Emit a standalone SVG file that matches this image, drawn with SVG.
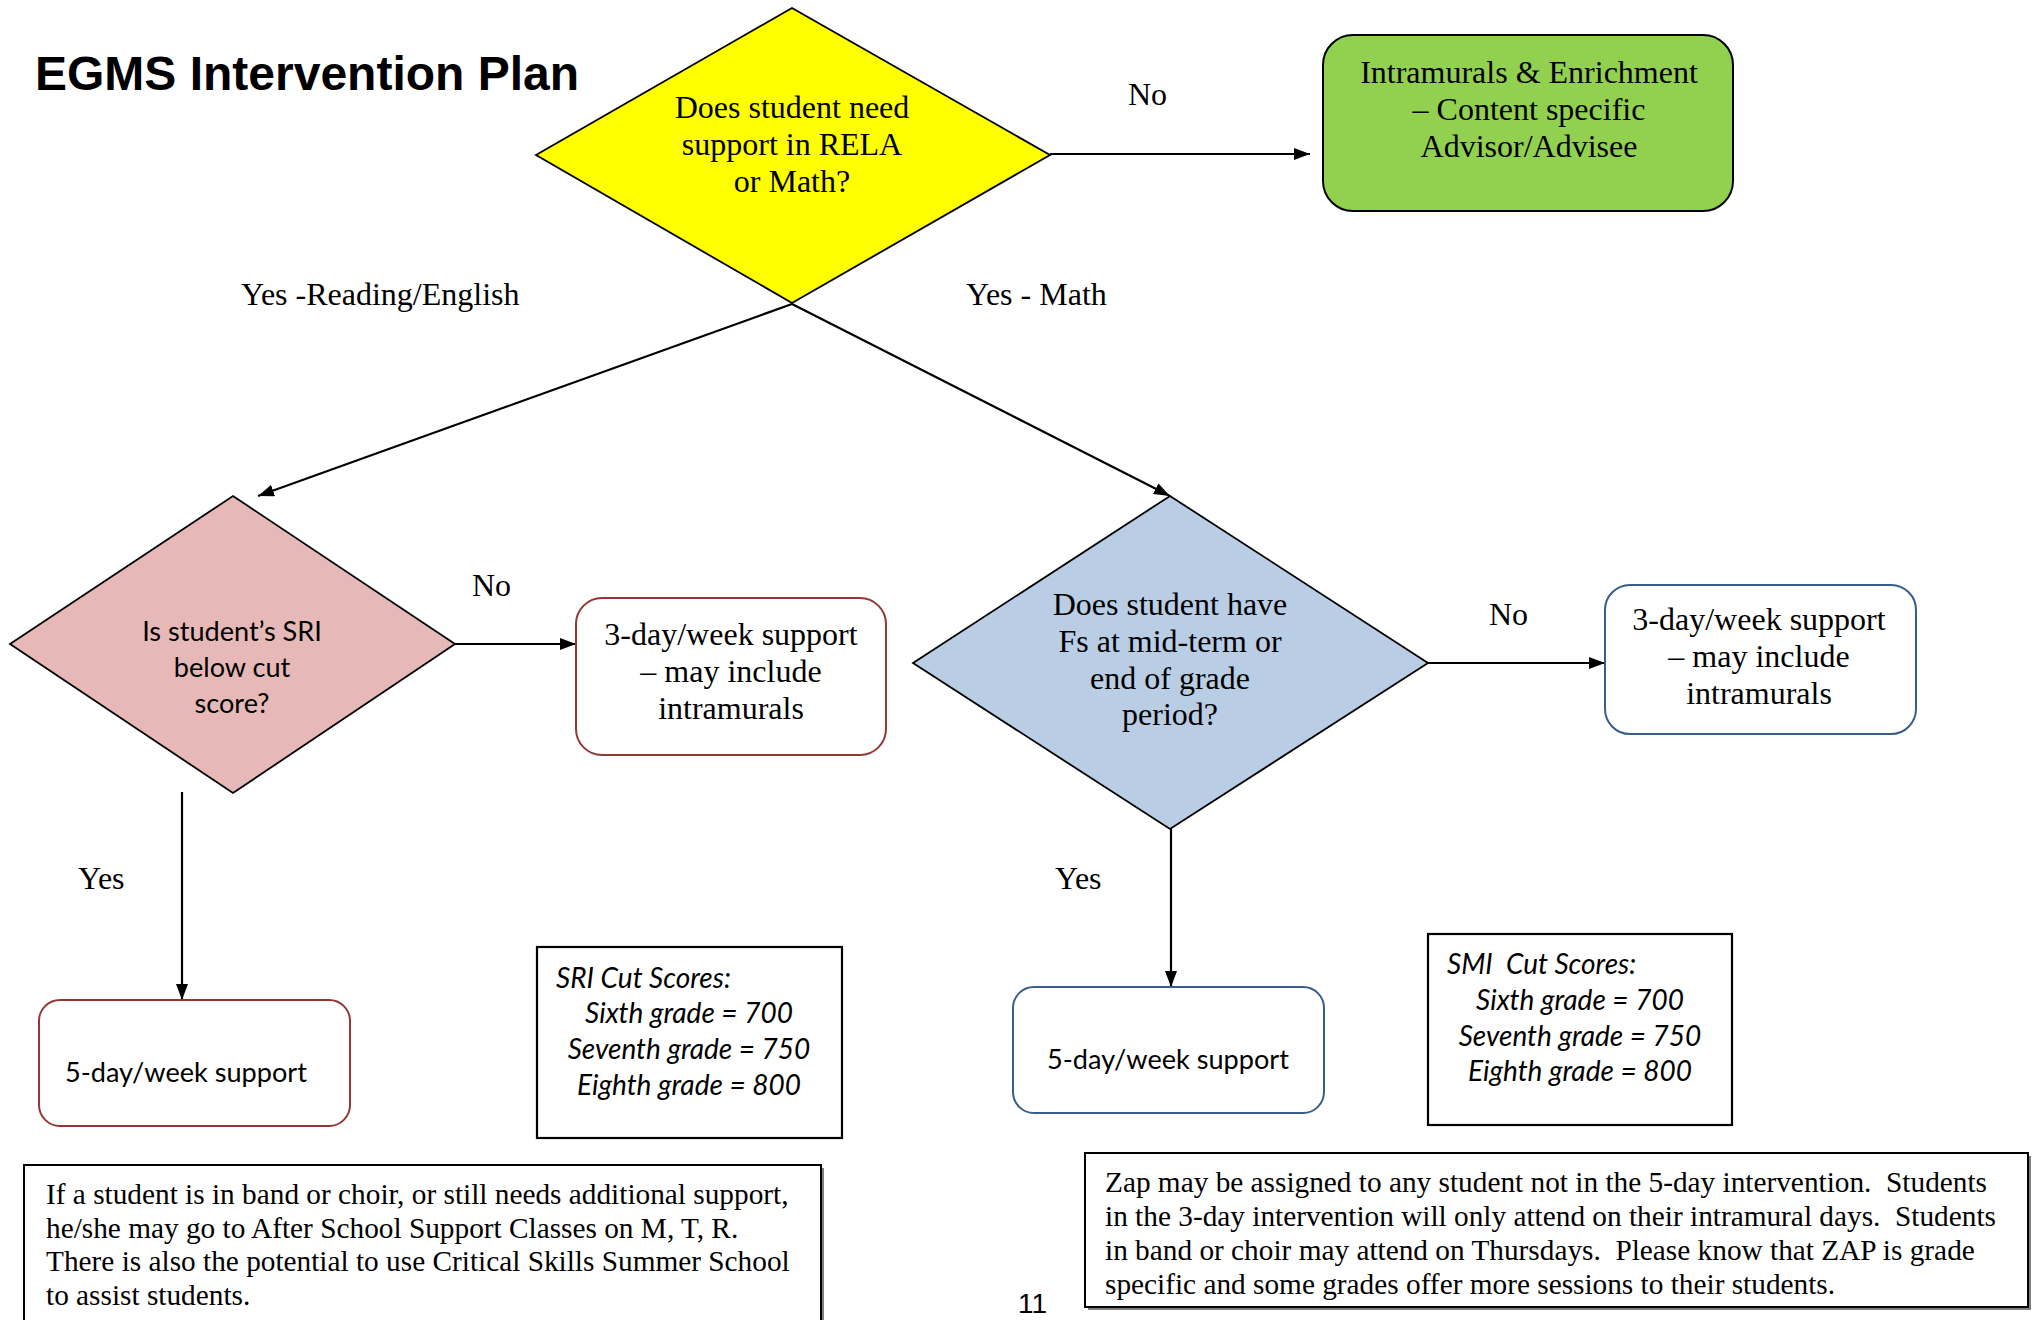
<svg xmlns="http://www.w3.org/2000/svg" width="2042" height="1320" viewBox="0 0 2042 1320">
<style>
.serif{font-family:"Liberation Serif","Times New Roman",serif;font-size:32px;fill:#000}
.note{font-family:"Liberation Serif","Times New Roman",serif;font-size:29.3px;fill:#000}
.sans{font-family:Lato,"Open Sans",sans-serif;font-size:27.1px;fill:#000}
.ital{font-family:Lato,"Open Sans",sans-serif;font-size:28px;font-style:italic;fill:#000}
.mid{text-anchor:middle}
.conn{stroke:#000;stroke-width:2.2;fill:none}
</style>
<defs>
<marker id="arrow" viewBox="0 0 16 12" refX="16" refY="6" markerWidth="16" markerHeight="12" markerUnits="userSpaceOnUse" orient="auto">
<path d="M0,0 L16,6 L0,12 Z" fill="#000"/>
</marker>
</defs>
<rect width="2042" height="1320" fill="#fff"/>
<text id="title" x="35" y="90" font-family="Liberation Sans, Arial, sans-serif" font-weight="bold" font-size="48">EGMS Intervention Plan</text>

<g id="connectors">
<line class="conn" x1="1050" y1="154" x2="1310" y2="154" marker-end="url(#arrow)"/>
<line class="conn" x1="792" y1="304" x2="258" y2="496" marker-end="url(#arrow)"/>
<line class="conn" x1="792" y1="304" x2="1170" y2="496" marker-end="url(#arrow)"/>
<line class="conn" x1="455" y1="644" x2="576" y2="644" marker-end="url(#arrow)"/>
<line class="conn" x1="1428" y1="663" x2="1605" y2="663" marker-end="url(#arrow)"/>
<line class="conn" x1="182" y1="792" x2="182" y2="1000" marker-end="url(#arrow)"/>
<line class="conn" x1="1171" y1="829" x2="1171" y2="987" marker-end="url(#arrow)"/>
</g>

<g id="labels">
<text class="serif" x="1128" y="105">No</text>
<text class="serif" x="241" y="305">Yes -Reading/English</text>
<text class="serif" x="966" y="305">Yes - Math</text>
<text class="serif" x="472" y="596">No</text>
<text class="serif" x="1489" y="625">No</text>
<text class="serif" x="78" y="889">Yes</text>
<text class="serif" x="1055" y="889">Yes</text>
</g>

<g id="q-rela-math">
<polygon points="792,8 1050,155 792,303 536,155" fill="#FFFF00" stroke="#000" stroke-width="1.8"/>
<text class="serif mid" x="792" y="118">Does student need</text>
<text class="serif mid" x="792" y="155">support in RELA</text>
<text class="serif mid" x="792" y="192">or Math?</text>
</g>

<g id="enrichment">
<rect x="1323" y="35" width="410" height="176" rx="30" fill="#92D050" stroke="#000" stroke-width="2"/>
<text class="serif mid" x="1529" y="83">Intramurals &amp; Enrichment</text>
<text class="serif mid" x="1529" y="120">– Content specific</text>
<text class="serif mid" x="1529" y="157">Advisor/Advisee</text>
</g>

<g id="q-sri">
<polygon points="233,496 455,644 233,793 10,644" fill="#E6B9B8" stroke="#000" stroke-width="1.8"/>
<text class="sans mid" x="232" y="641">Is student’s SRI</text>
<text class="sans mid" x="232" y="677">below cut</text>
<text class="sans mid" x="232" y="713">score?</text>
</g>

<g id="rela-3day">
<rect x="576" y="598" width="310" height="157" rx="26" fill="#fff" stroke="#943634" stroke-width="2"/>
<text class="serif mid" x="731" y="645">3-day/week support</text>
<text class="serif mid" x="731" y="682">– may include</text>
<text class="serif mid" x="731" y="719">intramurals</text>
</g>

<g id="q-math">
<polygon points="1170,496 1428,663 1170,829 913,663" fill="#B9CDE5" stroke="#000" stroke-width="1.8"/>
<text class="serif mid" x="1170" y="615">Does student have</text>
<text class="serif mid" x="1170" y="652">Fs at mid-term or</text>
<text class="serif mid" x="1170" y="689">end of grade</text>
<text class="serif mid" x="1170" y="725">period?</text>
</g>

<g id="math-3day">
<rect x="1605" y="585" width="311" height="149" rx="25" fill="#fff" stroke="#385D8A" stroke-width="2"/>
<text class="serif mid" x="1759" y="630">3-day/week support</text>
<text class="serif mid" x="1759" y="667">– may include</text>
<text class="serif mid" x="1759" y="704">intramurals</text>
</g>

<g id="rela-5day">
<rect x="39" y="1000" width="311" height="126" rx="21" fill="#fff" stroke="#943634" stroke-width="2"/>
<text class="sans" x="65" y="1082">5-day/week support</text>
</g>

<g id="math-5day">
<rect x="1013" y="987" width="311" height="126" rx="21" fill="#fff" stroke="#385D8A" stroke-width="2"/>
<text class="sans mid" x="1168" y="1069">5-day/week support</text>
</g>

<g id="sri-scores">
<rect x="537" y="947" width="305" height="191" fill="#fff" stroke="#000" stroke-width="2.2"/>
<text class="ital" x="556" y="988">SRI Cut Scores:</text>
<text class="ital mid" x="689" y="1023">Sixth grade = 700</text>
<text class="ital mid" x="689" y="1059">Seventh grade = 750</text>
<text class="ital mid" x="689" y="1095">Eighth grade = 800</text>
</g>

<g id="smi-scores">
<rect x="1428" y="934" width="304" height="191" fill="#fff" stroke="#000" stroke-width="2.2"/>
<text class="ital" x="1447" y="974" xml:space="preserve">SMI  Cut Scores:</text>
<text class="ital mid" x="1580" y="1010">Sixth grade = 700</text>
<text class="ital mid" x="1580" y="1046">Seventh grade = 750</text>
<text class="ital mid" x="1580" y="1081">Eighth grade = 800</text>
</g>

<g id="note-left">
<rect x="27" y="1168" width="797" height="170" fill="#808080"/>
<rect x="24" y="1165" width="797" height="170" fill="#fff" stroke="#000" stroke-width="2"/>
<text class="note" x="46" y="1204">If a student is in band or choir, or still needs additional support,</text>
<text class="note" x="46" y="1238">he/she may go to After School Support Classes on M, T, R.</text>
<text class="note" x="46" y="1271">There is also the potential to use Critical Skills Summer School</text>
<text class="note" x="46" y="1305">to assist students.</text>
</g>

<g id="note-right">
<rect x="1088" y="1156" width="943" height="154" fill="#808080"/>
<rect x="1085" y="1153" width="943" height="154" fill="#fff" stroke="#000" stroke-width="2"/>
<text class="note" x="1105" y="1192" xml:space="preserve">Zap may be assigned to any student not in the 5-day intervention.  Students</text>
<text class="note" x="1105" y="1226" xml:space="preserve">in the 3-day intervention will only attend on their intramural days.  Students</text>
<text class="note" x="1105" y="1260" xml:space="preserve">in band or choir may attend on Thursdays.  Please know that ZAP is grade</text>
<text class="note" x="1105" y="1294">specific and some grades offer more sessions to their students.</text>
</g>

<text id="page-number" x="1018" y="1313" font-family="Liberation Sans, Arial, sans-serif" font-size="28">11</text>
</svg>
